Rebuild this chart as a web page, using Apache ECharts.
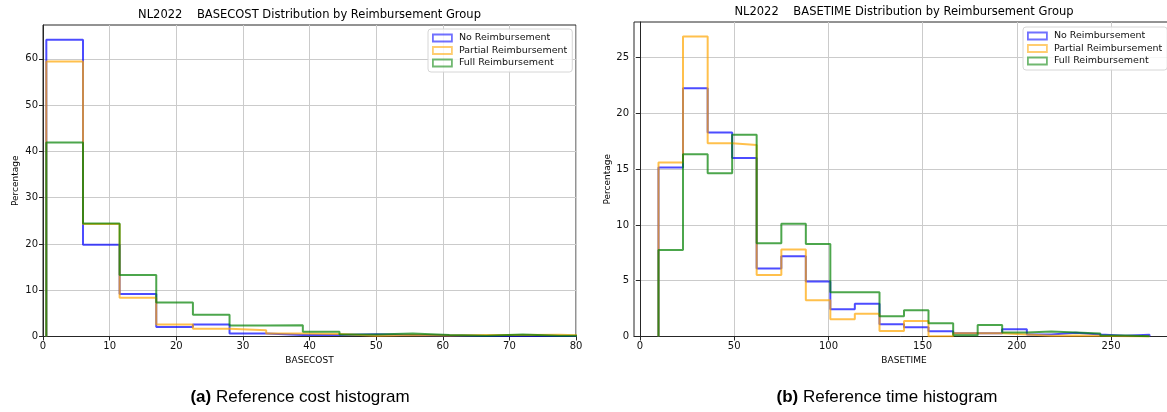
<!DOCTYPE html>
<html>
<head>
<meta charset="utf-8">
<script src="https://cdn.jsdelivr.net/npm/echarts@6/dist/echarts.min.js"></script>
<style>
html,body{margin:0;padding:0;background:#fff;}
#chart{width:1167px;height:412px;}
</style>
</head>
<body>
<div id="chart"></div>
<script>
// ---------- data ----------
const groupNames = ['No Reimbursement', 'Partial Reimbursement', 'Full Reimbursement'];
const groupColors = ['rgba(0,0,255,0.7)', 'rgba(255,165,0,0.7)', 'rgba(0,128,0,0.7)'];

// BASECOST histogram (percentage per bin)
const costEdges = [0.5, 6, 11.5, 17, 22.5, 28, 33.5, 39, 44.5, 50, 55.5, 61, 66.5, 72, 77.5, 83];
const costNo      = [64.1, 19.8, 9.2, 2.05, 2.6, 0.65, 0.3, 0.3, 0.5, 0.35, 0.2, 0.1, 0.2, 0.1, 0.1];
const costPartial = [59.4, 24.3, 8.35, 2.6, 1.7, 1.35, 0.65, 0.55, 0.15, 0.3, 0.2, 0.3, 0.3, 0.4, 0.1];
const costFull    = [41.9, 24.4, 13.3, 7.35, 4.7, 2.35, 2.45, 1.0, 0.45, 0.65, 0.35, 0.15, 0.45, 0.15, 0.15];

// BASETIME histogram (percentage per bin)
const timeEdges = [9.8, 22.8, 35.9, 48.9, 61.9, 75.0, 88.0, 101.0, 114.0, 127.1, 140.1, 153.1, 166.2, 179.2, 192.2, 205.3, 218.3, 231.3, 244.3, 257.4, 270.4];
const timeNo      = [15.15, 22.26, 18.3, 16.0, 6.09, 7.19, 4.93, 2.45, 2.93, 1.1, 0.84, 0.48, 0.3, 0.3, 0.66, 0.18, 0.33, 0.18, 0.06, 0.15];
const timePartial = [15.6, 26.9, 17.33, 17.18, 5.52, 7.79, 3.25, 1.55, 2.03, 0.5, 1.4, 0.03, 0.3, 0.3, 0.18, 0.06, 0.1, 0.06, 0.03, 0.0];
const timeFull    = [7.75, 16.35, 14.64, 18.1, 8.36, 10.12, 8.3, 3.97, 3.97, 1.82, 2.36, 1.19, 0.12, 1.04, 0.36, 0.45, 0.36, 0.27, 0.09, 0.03];

const costXTicks = [0, 10, 20, 30, 40, 50, 60, 70, 80];
const costYTicks = [0, 10, 20, 30, 40, 50, 60];
const timeXTicks = [0, 50, 100, 150, 200, 250];
const timeYTicks = [0, 5, 10, 15, 20, 25];

const titles = ['NL2022    BASECOST Distribution by Reimbursement Group',
                'NL2022    BASETIME Distribution by Reimbursement Group'];
const captionsLetter = ['(a)', '(b)'];
const captionsText = ['Reference cost histogram', 'Reference time histogram'];

// ---------- helpers ----------
function stepPoints(edges, vals) {
  const pts = [[edges[0], 0]];
  for (let i = 0; i < vals.length; i++) {
    pts.push([edges[i], vals[i]]);
    pts.push([edges[i + 1], vals[i]]);
  }
  pts.push([edges[vals.length], 0]);
  return pts;
}

const FONT = 'DejaVu Sans';
const axisColor = '#262626';
const gridLineColor = '#cbcbcb';

function makeX(idx, min, max, name, ticks) {
  return {
    type: 'value', gridIndex: idx, min: min, max: max,
    name: name, nameLocation: 'middle', nameGap: 17,
    nameTextStyle: {fontFamily: FONT, fontSize: 9, color: '#000'},
    axisLine: {show: true, lineStyle: {color: axisColor, width: 1}},
    axisTick: {show: true, length: 4, lineStyle: {color: axisColor}, customValues: ticks},
    axisLabel: {fontFamily: FONT, fontSize: 10, color: '#111', margin: 5, customValues: ticks,
                showMinLabel: true, showMaxLabel: true},
    splitLine: {show: true, lineStyle: {color: gridLineColor, width: 1}}
  };
}
function makeY(idx, max, interval, ticks, gap) {
  return {
    type: 'value', gridIndex: idx, min: 0, max: max, interval: interval,
    name: 'Percentage', nameLocation: 'middle', nameGap: gap, nameRotate: 90,
    nameTextStyle: {fontFamily: FONT, fontSize: 9, color: '#000'},
    axisLine: {show: true, lineStyle: {color: axisColor, width: 1}},
    axisTick: {show: true, length: 4, lineStyle: {color: axisColor}, customValues: ticks},
    axisLabel: {fontFamily: FONT, fontSize: 10, color: '#111', margin: 5, customValues: ticks},
    splitLine: {show: true, lineStyle: {color: gridLineColor, width: 1}}
  };
}

const costSets = [costNo, costPartial, costFull];
const timeSets = [timeNo, timePartial, timeFull];

const series = [];
// dummy series only to give the legend outlined-rectangle icons
groupNames.forEach((n, i) => {
  series.push({type: 'scatter', name: n, xAxisIndex: 0, yAxisIndex: 0, data: [],
               itemStyle: {color: groupColors[i]}});
});
costSets.forEach((vals, i) => {
  series.push({
    type: 'line', name: groupNames[i], xAxisIndex: 0, yAxisIndex: 0,
    data: stepPoints(costEdges, vals), showSymbol: false, symbol: 'none', clip: true,
    lineStyle: {color: groupColors[i], width: 2}, itemStyle: {color: groupColors[i]}, z: 3
  });
});
timeSets.forEach((vals, i) => {
  series.push({
    type: 'line', name: groupNames[i], xAxisIndex: 1, yAxisIndex: 1,
    data: stepPoints(timeEdges, vals), showSymbol: false, symbol: 'none', clip: true,
    lineStyle: {color: groupColors[i], width: 2}, itemStyle: {color: groupColors[i]}, z: 3
  });
});

function makeLegend(left, top) {
  return {
    orient: 'vertical', left: left, top: top,
    padding: [4, 5, 4, 4], itemGap: 2.5, itemWidth: 19, itemHeight: 7,
    backgroundColor: 'rgba(255,255,255,0.85)', borderColor: '#d6d6d6', borderWidth: 1, borderRadius: 3,
    textStyle: {fontFamily: FONT, fontSize: 9.5, color: '#111', padding: [0, 0, 0, 2]},
    data: groupNames.map((n, i) => ({
      name: n, icon: 'rect',
      itemStyle: {color: 'rgba(255,255,255,0)', borderColor: groupColors[i], borderWidth: 1.8}
    }))
  };
}

const option = {
  animation: false,
  backgroundColor: '#fff',
  grid: [
    {left: 43, top: 25, width: 533, height: 311.5, outerBoundsMode: 'none', containLabel: false,
     show: true, borderColor: axisColor, borderWidth: 1, backgroundColor: 'transparent'},
    {left: 634, top: 22, width: 540, height: 314.5, outerBoundsMode: 'none', containLabel: false,
     show: true, borderColor: axisColor, borderWidth: 1, backgroundColor: 'transparent'}
  ],
  xAxis: [
    makeX(0, 0, 80, 'BASECOST', costXTicks),
    makeX(1, -3.2, 283.4, 'BASETIME', timeXTicks)
  ],
  yAxis: [
    makeY(0, 67.3, 10, costYTicks, 22.5),
    makeY(1, 28.2, 5, timeYTicks, 21.5)
  ],
  legend: [makeLegend(428, 29), makeLegend(1023, 27)],
  series: series,
  graphic: [
    {type: 'text', x: 309.5, y: 15.5, style: {text: titles[0], fill: '#000', fontFamily: FONT, fontSize: 11.5, align: 'center', verticalAlign: 'middle'}},
    {type: 'text', x: 904, y: 12, style: {text: titles[1], fill: '#000', fontFamily: FONT, fontSize: 11.5, align: 'center', verticalAlign: 'middle'}},
    {type: 'text', x: 300, y: 397, style: {
      text: '{b|' + captionsLetter[0] + '} ' + captionsText[0],
      align: 'center', verticalAlign: 'middle', fill: '#000',
      fontFamily: 'Liberation Sans', fontSize: 17,
      rich: {b: {fontFamily: 'Liberation Sans', fontSize: 17, fontWeight: 'bold', fill: '#000'}}
    }},
    {type: 'text', x: 887, y: 397, style: {
      text: '{b|' + captionsLetter[1] + '} ' + captionsText[1],
      align: 'center', verticalAlign: 'middle', fill: '#000',
      fontFamily: 'Liberation Sans', fontSize: 17,
      rich: {b: {fontFamily: 'Liberation Sans', fontSize: 17, fontWeight: 'bold', fill: '#000'}}
    }}
  ]
};

const chart = echarts.init(document.getElementById('chart'), null, {renderer: 'canvas', width: 1167, height: 412});
chart.setOption(option);
</script>
</body>
</html>
